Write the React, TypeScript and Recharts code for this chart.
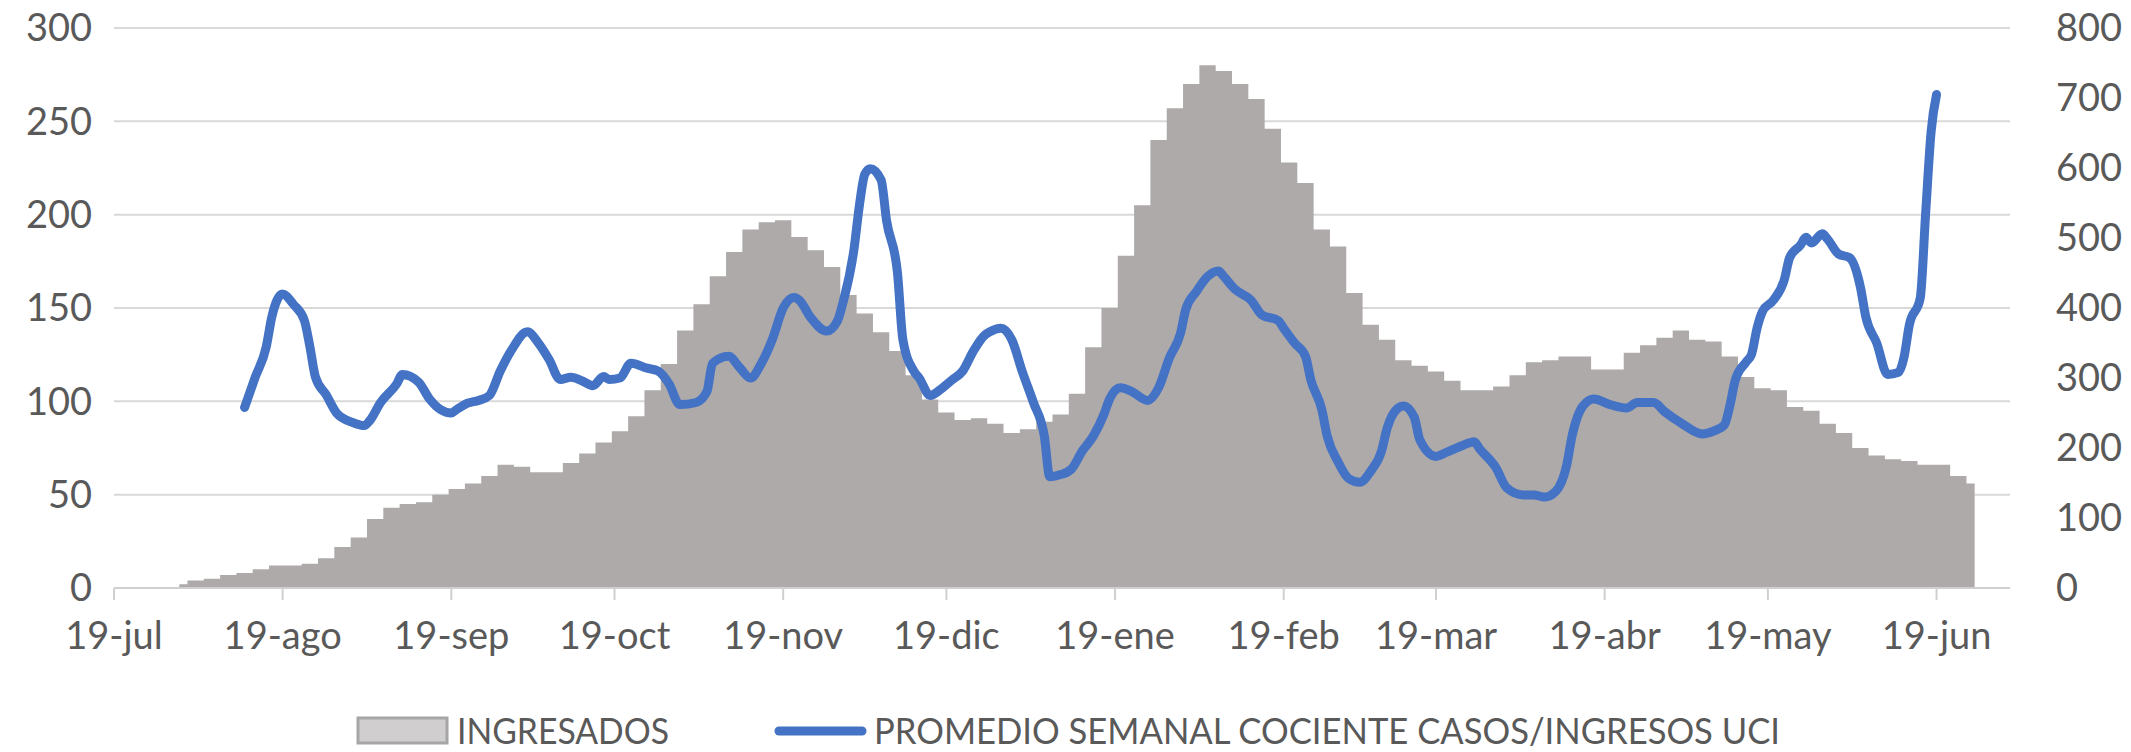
import { ComposedChart, Area, Line, XAxis, YAxis, CartesianGrid, Legend } from 'recharts'

// days counted from 19-jul
const monthTicks = [0, 31, 62, 92, 123, 153, 184, 215, 243, 274, 304, 335]
const monthLabels = ['19-jul', '19-ago', '19-sep', '19-oct', '19-nov', '19-dic', '19-ene', '19-feb', '19-mar', '19-abr', '19-may', '19-jun']

// INGRESADOS, one reading every 3 days starting at day 12
const ingresadosFirstDay = 12
const ingresadosStep = 3
const ingresados = [
  2, 4, 5, 7, 8, 10, 12, 12, 13, 16,
  22, 27, 37, 43, 45, 46, 50, 53, 56, 60,
  66, 65, 62, 62, 67, 72, 78, 84, 92, 106,
  120, 138, 152, 167, 180, 192, 196, 197, 188, 181,
  172, 157, 147, 137, 127, 114, 101, 94, 90, 91,
  88, 83, 85, 89, 93, 104, 129, 150, 178, 205,
  240, 257, 270, 280, 277, 270, 262, 246, 228, 217,
  192, 183, 158, 141, 133, 122, 119, 116, 111, 106,
  106, 108, 114, 121, 122, 124, 124, 117, 117, 126,
  130, 134, 138, 133, 132, 124, 113, 107, 106, 97,
  95, 88, 83, 75, 71, 69, 68, 66, 66, 60,
  56,
]

// PROMEDIO SEMANAL COCIENTE CASOS/INGRESOS UCI
const cocienteDays = [
  24, 26, 28, 29, 31, 33, 35, 36, 37, 39, 41, 43, 44, 46, 47, 49, 52, 53, 56, 58,
  60, 62, 63, 65, 67, 69, 71, 73, 76, 78, 80, 82, 84, 86, 88, 90, 91, 93, 95, 98,
  100, 102, 104, 107, 109, 110, 113, 115, 117, 119, 121, 123, 125, 126, 128, 131, 133, 134, 136, 137,
  138, 139, 141, 142, 144, 145, 147, 148, 150, 152, 154, 156, 158, 160, 161, 163, 165, 167, 169, 171,
  172, 174, 176, 178, 180, 182, 183, 185, 187, 190, 192, 194, 196, 197, 199, 201, 203, 204, 206, 209,
  211, 214, 215, 217, 219, 220, 222, 223, 225, 227, 229, 231, 233, 234, 236, 237, 239, 240, 243, 245,
  248, 250, 251, 254, 256, 259, 261, 263, 265, 267, 268, 270, 272, 275, 278, 280, 283, 285, 288, 292,
  294, 296, 297, 298, 300, 301, 302, 303, 305, 307, 308, 310, 311, 312, 314, 315, 317, 319, 321, 322,
  324, 326, 328, 329, 330, 332, 333, 334, 335,
]
const cociente = [
  258, 302, 345, 387, 420, 405, 382, 345, 302, 276, 249, 239, 236, 232, 239, 265, 292, 305, 294, 270,
  255, 250, 255, 264, 268, 275, 310, 339, 366, 350, 326, 298, 301, 296, 289, 302, 298, 300, 321, 314,
  310, 292, 262, 265, 281, 321, 331, 315, 300, 321, 355, 400, 415, 411, 387, 367, 382, 408, 483, 546,
  591, 599, 583, 525, 451, 355, 310, 300, 275, 284, 297, 310, 339, 361, 366, 371, 355, 308, 265, 217,
  159, 162, 170, 196, 217, 249, 270, 286, 281, 268, 286, 329, 363, 398, 424, 445, 453, 445, 427, 411,
  390, 382, 371, 350, 331, 297, 255, 217, 180, 156, 151, 167, 196, 228, 257, 260, 244, 212, 188, 194,
  204, 209, 199, 172, 143, 133, 133, 130, 138, 175, 217, 260, 270, 262, 257, 265, 265, 252, 236, 220,
  224, 233, 260, 297, 323, 334, 371, 395, 411, 440, 472, 490, 501, 493, 506, 498, 477, 472, 430, 387,
  350, 305, 308, 329, 376, 414, 536, 652, 705,
]

const leftTicks = [0, 50, 100, 150, 200, 250, 300]
const rightTicks = [0, 100, 200, 300, 400, 500, 600, 700, 800]

type Row = { day: number; ingresados?: number; cociente?: number }

const rowsByDay = new Map<number, Row>()
ingresados.forEach((v, i) => {
  const day = ingresadosFirstDay + ingresadosStep * i
  rowsByDay.set(day, { ...(rowsByDay.get(day) || { day }), ingresados: v })
})
cocienteDays.forEach((day, i) => {
  rowsByDay.set(day, { ...(rowsByDay.get(day) || { day }), cociente: cociente[i] })
})
const data = Array.from(rowsByDay.values()).sort((a, b) => a.day - b.day)

const FONT = 'Lato, "Open Sans", sans-serif'
const TEXT = '#595959'
const GREY = '#AEAAAA'
const BLUE = '#4472C4'
const GRID = '#D9D9D9'

const renderLegend = () => (
  <svg width={2131} height={52} style={{ display: 'block' }}>
    <rect x={358} y={13} width={89} height={25} fill="#D0CECE" stroke="#A6A6A6" strokeWidth={3} />
    <text x={457} y={39} fontSize={37} fill={TEXT} fontFamily={FONT} textLength={212} lengthAdjust="spacingAndGlyphs">
      INGRESADOS
    </text>
    <line x1={779} y1={26} x2={862} y2={26} stroke={BLUE} strokeWidth={9} strokeLinecap="round" />
    <text x={874} y={39} fontSize={37} fill={TEXT} fontFamily={FONT} textLength={906} lengthAdjust="spacingAndGlyphs">
      PROMEDIO SEMANAL COCIENTE CASOS/INGRESOS UCI
    </text>
  </svg>
)

export default function App() {
  return (
    <div style={{ position: 'absolute', left: 0, top: 0, background: '#fff' }}>
      <ComposedChart
        width={2131}
        height={752}
        data={data}
        margin={{ top: 28, right: 0, bottom: 32, left: 0 }}
        style={{ fontFamily: FONT }}
      >
        <CartesianGrid yAxisId="left" vertical={false} stroke={GRID} strokeWidth={2} />
        <XAxis
          dataKey="day"
          type="number"
          domain={[0, 348.5]}
          ticks={monthTicks}
          interval={0}
          tickFormatter={(d: number) => monthLabels[monthTicks.indexOf(d)]}
          height={80}
          axisLine={{ stroke: '#D0D0D0', strokeWidth: 2 }}
          tickLine={{ stroke: '#D0D0D0', strokeWidth: 2 }}
          tickSize={12}
          tickMargin={22}
          tick={{ fill: TEXT, fontSize: 38, fontFamily: FONT }}
        />
        <YAxis
          yAxisId="left"
          orientation="left"
          domain={[0, 300]}
          ticks={leftTicks}
          interval={0}
          width={114}
          axisLine={false}
          tickLine={false}
          tickSize={10}
          tickMargin={12}
          tick={{ fill: TEXT, fontSize: 38, fontFamily: FONT }}
        />
        <YAxis
          yAxisId="right"
          orientation="right"
          domain={[0, 800]}
          ticks={rightTicks}
          interval={0}
          width={121}
          axisLine={false}
          tickLine={false}
          tickSize={10}
          tickMargin={36}
          tick={{ fill: TEXT, fontSize: 38, fontFamily: FONT, textAnchor: 'start' }}
        />
        <Area
          yAxisId="left"
          dataKey="ingresados"
          type="step"
          fill={GREY}
          fillOpacity={1}
          stroke="none"
          connectNulls
          dot={false}
          activeDot={false}
          isAnimationActive={false}
        />
        <Line
          yAxisId="right"
          dataKey="cociente"
          type="monotone"
          stroke={BLUE}
          strokeWidth={9}
          strokeLinecap="round"
          strokeLinejoin="round"
          connectNulls
          dot={false}
          activeDot={false}
          isAnimationActive={false}
        />
        <Legend
          verticalAlign="bottom"
          content={renderLegend}
          wrapperStyle={{ position: 'absolute', left: 0, top: 705, width: 2131, height: 52 }}
        />
      </ComposedChart>
    </div>
  )
}
